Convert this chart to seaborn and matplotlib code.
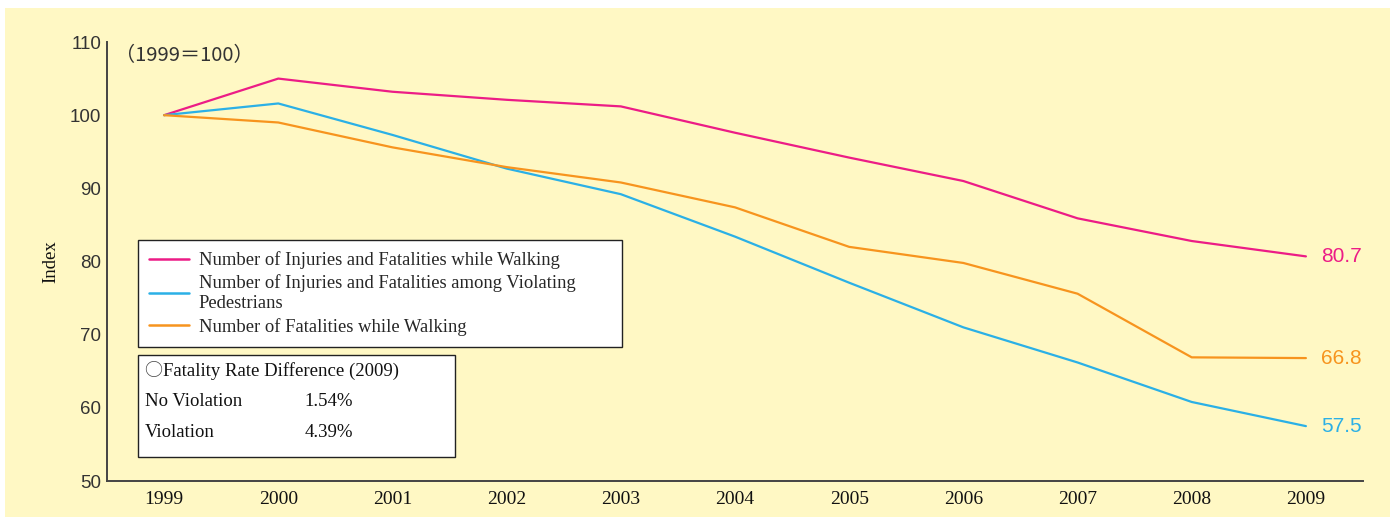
import matplotlib
matplotlib.use("Agg")
import matplotlib.pyplot as plt
from matplotlib.patches import Rectangle
from matplotlib.lines import Line2D
import seaborn as sns
import pandas as pd
import numpy as np

years = ["1999", "2000", "2001", "2002", "2003", "2004", "2005", "2006", "2007", "2008", "2009"]
injuries_walking = [100, 105.0, 103.2, 102.1, 101.2, 97.6, 94.2, 91.0, 85.9, 82.8, 80.7]
injuries_violating = [100, 101.6, 97.3, 92.7, 89.2, 83.4, 77.1, 71.0, 66.2, 60.8, 57.5]
fatalities_walking = [100, 99.0, 95.6, 92.9, 90.8, 87.4, 82.0, 79.8, 75.6, 66.9, 66.8]

series_names = [
    "Number of Injuries and Fatalities while Walking",
    "Number of Injuries and Fatalities among Violating\nPedestrians",
    "Number of Fatalities while Walking",
]
series_colors = ["#EC1C86", "#2BB0E6", "#F7941E"]
end_labels = ["80.7", "57.5", "66.8"]
rate_title = "Fatality Rate Difference (2009)"
rate_rows = ["No Violation", "Violation"]
rate_values = ["1.54%", "4.39%"]

df = pd.DataFrame({
    "year": years * 3,
    "idx": list(range(len(years))) * 3,
    "value": injuries_walking + injuries_violating + fatalities_walking,
    "series": [series_names[0]] * 11 + [series_names[1]] * 11 + [series_names[2]] * 11,
})

sns.set_theme(style="white")
serif = ["Liberation Serif", "DejaVu Serif"]
sans = ["Liberation Sans", "DejaVu Sans"]
plt.rcParams["font.family"] = serif

W, H = 1392, 523
fig = plt.figure(figsize=(W / 100, H / 100), dpi=100, facecolor="white")
# pale yellow panel behind everything
fig.patches.append(Rectangle((5 / W, 6 / H), (W - 7) / W, (H - 14) / H,
                             transform=fig.transFigure, facecolor="#FFF8C4",
                             edgecolor="none", zorder=-10))

ax = fig.add_axes([107 / W, 1 - 481 / H, (1363 - 107) / W, (481 - 42) / H])
ax.set_facecolor("none")
ax.set_zorder(5)

palette = dict(zip(series_names, series_colors))
sns.lineplot(data=df, x="idx", y="value", hue="series", palette=palette,
             hue_order=series_names, linewidth=1.6, ax=ax, legend=False)

ax.set_xlim(-0.5, 10.5)
ax.set_ylim(50, 110)
ax.set_yticks(np.arange(50, 111, 10))
ax.set_yticklabels([str(v) for v in range(50, 111, 10)], fontfamily=sans,
                   fontsize=13.5, color="#333333")
ax.set_xticks(range(len(years)))
ax.set_xticklabels(years, fontsize=14, color="#111111")
ax.set_xticks(np.arange(0.5, 10.6, 1), minor=True)
ax.tick_params(axis="x", which="major", length=0, pad=7)
ax.tick_params(axis="x", which="minor", direction="in", length=8, width=1.2, color="#444444")
ax.tick_params(axis="y", which="major", direction="in", length=8, width=1.2, color="#444444", pad=4)
for side in ["top", "right"]:
    ax.spines[side].set_visible(False)
for side in ["left", "bottom"]:
    ax.spines[side].set_color("#444444")
    ax.spines[side].set_linewidth(1.4)

ax.set_xlabel("")
ax.set_ylabel("Index", fontsize=13.5, color="#111111", labelpad=8)

ax.text(0.0064, 0.968, "\uFF081999\uFF1D100\uFF09", transform=ax.transAxes,
        fontsize=14.5, fontfamily=["Noto Sans CJK JP"], color="#333333",
        ha="left", va="center")

# end-of-line value labels
end_values = [injuries_walking[-1], injuries_violating[-1], fatalities_walking[-1]]
for val, lab, col in zip(end_values, end_labels, series_colors):
    ax.text(len(years) - 1 + 0.13, val, lab, color=col, fontsize=15,
            fontfamily=sans, ha="left", va="center", clip_on=False)

handles = [Line2D([0], [0], color=c, lw=1.8) for c in series_colors]
leg = ax.legend(handles, series_names, loc="upper left",
                bbox_to_anchor=(0.0247, 0.549, 0.3853, 0.0), mode="expand",
                frameon=True, fancybox=False, fontsize=13.4, handlelength=2.15,
                handletextpad=0.5, labelspacing=0.3, borderpad=0.6,
                borderaxespad=0)
leg.get_frame().set_edgecolor("#222222")
leg.get_frame().set_linewidth(1.0)
leg.get_frame().set_facecolor("white")
leg.get_frame().set_alpha(1)

# fatality rate box
ax.add_patch(Rectangle((0.0247, 0.0547), 0.2523, 0.2323, transform=ax.transAxes,
                       facecolor="white", edgecolor="#222222", linewidth=1.0, zorder=5))
ax.text(0.0295, 0.2506, "\u25CB", transform=ax.transAxes, fontsize=13,
        fontfamily=["Noto Sans CJK JP"], color="#444444",
        ha="left", va="center", zorder=6)
ax.text(0.0445, 0.2506, rate_title, transform=ax.transAxes, fontsize=13.5,
        color="#111111", ha="left", va="center", zorder=6)
for row, val, yy in zip(rate_rows, rate_values, [0.180, 0.1116]):
    ax.text(0.0303, yy, row, transform=ax.transAxes, fontsize=13.5,
            color="#111111", ha="left", va="center", zorder=6)
    ax.text(0.157, yy, val, transform=ax.transAxes, fontsize=13.5,
            color="#111111", ha="left", va="center", zorder=6)

fig.savefig("out.png", dpi=100, facecolor=fig.get_facecolor())
